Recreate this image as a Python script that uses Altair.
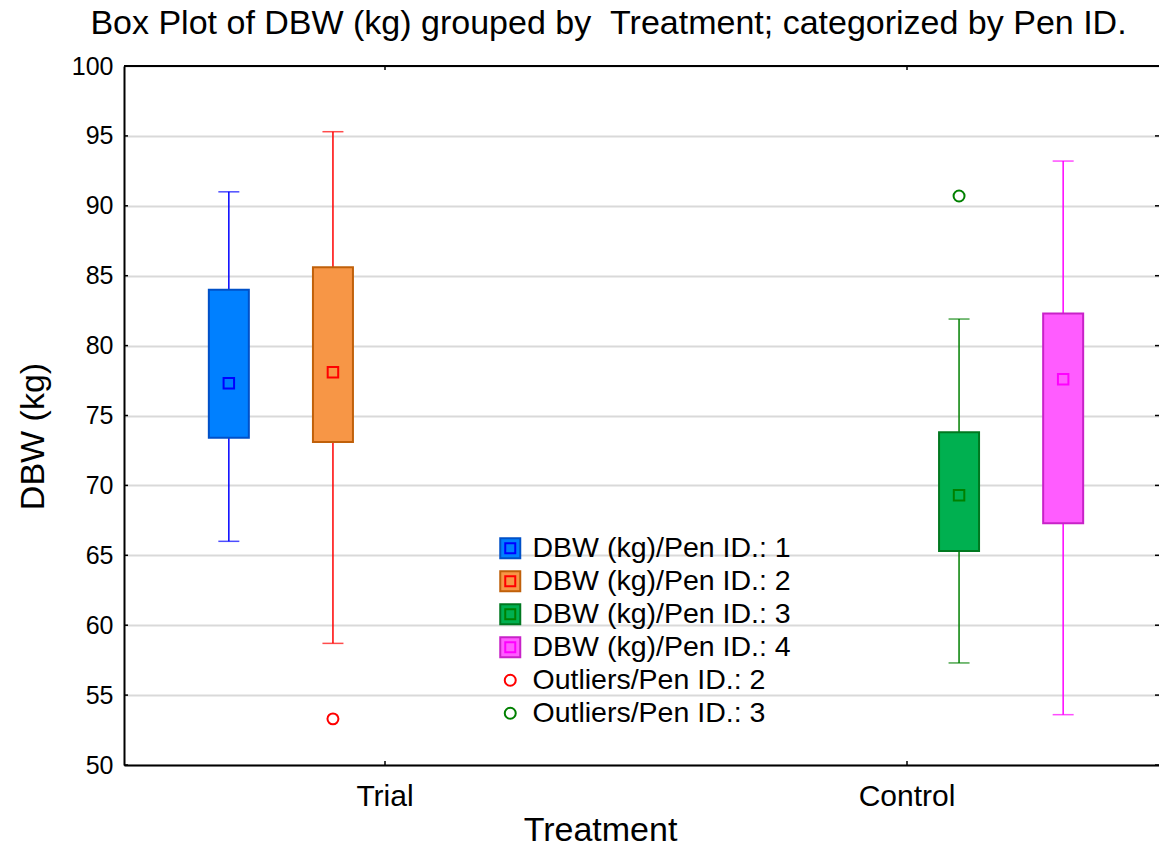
import altair as alt
import pandas as pd

# ---- data ----
categories = ["Trial", "Control"]
treatments = ["Trial", "Trial", "Control", "Control"]
pens = ["1", "2", "3", "4"]
whisker_low = [66.0, 58.7, 57.3, 53.6]
box_low = [73.4, 73.1, 65.3, 67.3]
centers = [77.3, 78.1, 69.3, 77.6]
box_high = [84.0, 85.6, 73.8, 82.3]
whisker_high = [91.0, 95.3, 81.9, 93.2]

outlier_treatments = ["Trial", "Control"]
outlier_pens = ["2", "3"]
outlier_values = [53.3, 90.7]

y_ticks = [50, 55, 60, 65, 70, 75, 80, 85, 90, 95, 100]

legend_labels = [
    "DBW (kg)/Pen ID.: 1",
    "DBW (kg)/Pen ID.: 2",
    "DBW (kg)/Pen ID.: 3",
    "DBW (kg)/Pen ID.: 4",
    "Outliers/Pen ID.: 2",
    "Outliers/Pen ID.: 3",
]

# ---- styles ----
fill_colors = ["#0080FF", "#F79646", "#00B050", "#FF5CFF"]
edge_colors = ["#0050C8", "#C0600A", "#007820", "#C822C8"]
line_colors = ["#0000FF", "#FF0000", "#008000", "#FF00FF"]

FONT = "Liberation Sans"
W, H = 1035, 699          # visible plot area (page is cut at the right)
XRANGE = 1044             # the category scale runs slightly past the page edge

boxes = pd.DataFrame({
    "treatment": treatments, "pen": pens,
    "whisker_low": whisker_low, "box_low": box_low, "center": centers,
    "box_high": box_high, "whisker_high": whisker_high,
    "fill_color": fill_colors, "edge_color": edge_colors, "line_color": line_colors,
})
outliers = pd.DataFrame({
    "treatment": outlier_treatments, "pen": outlier_pens, "value": outlier_values,
    "line_color": [line_colors[pens.index(p)] for p in outlier_pens],
})
ticks_df = pd.DataFrame({"value": y_ticks})
cats_df = pd.DataFrame({"treatment": categories})
legend_df = pd.DataFrame({"label": legend_labels})

x_axis = alt.Axis(
    title="Treatment", titleFontSize=34, titleFontWeight="normal", titleColor="black",
    titleX=476, titleY=75, titleBaseline="alphabetic", titleAlign="center",
    labelFontSize=30, labelColor="black", labelBaseline="alphabetic", labelPadding=40,
    labelAngle=0, ticks=False, domainColor="black", domainWidth=2, grid=False,
)
y_axis = alt.Axis(
    values=y_ticks, title="DBW (kg)", titleFontSize=34, titleFontWeight="normal",
    titleColor="black", titleX=-81, titleY=370, titleAngle=270, titleAlign="center",
    titleBaseline="alphabetic", labelFontSize=25, labelColor="black", labelPadding=11,
    ticks=False, domainColor="black", domainWidth=2, grid=True, gridColor="#D9D9D9",
    gridWidth=2,
)


def X():
    return alt.X("treatment:N", sort=categories,
                 scale=alt.Scale(domain=categories, range=[0, XRANGE],
                                 paddingInner=0, paddingOuter=0),
                 axis=x_axis)


def XO():
    return alt.XOffset("pen:N", scale=alt.Scale(domain=pens, paddingInner=0, paddingOuter=0.507))


def Y(field):
    return alt.Y(f"{field}:Q", scale=alt.Scale(domain=[50, 100], nice=False, zero=False),
                 axis=y_axis)


whiskers = alt.Chart(boxes).mark_rule(strokeWidth=1.5).encode(
    x=X(), xOffset=XO(), y=Y("whisker_low"), y2="whisker_high:Q",
    stroke=alt.Stroke("line_color:N", scale=None),
)
caps = alt.Chart(boxes).transform_fold(
    ["whisker_low", "whisker_high"], as_=["which", "cap"]
).mark_tick(orient="horizontal", size=21, thickness=1.5).encode(
    x=X(), xOffset=XO(), y=Y("cap"),
    color=alt.Color("line_color:N", scale=None),
)
bars = alt.Chart(boxes).mark_bar(size=40, strokeWidth=2).encode(
    x=X(), xOffset=XO(), y=Y("box_low"), y2="box_high:Q",
    fill=alt.Fill("fill_color:N", scale=None),
    stroke=alt.Stroke("edge_color:N", scale=None),
)
means = alt.Chart(boxes).mark_point(shape="square", filled=False, size=110,
                                    strokeWidth=2, opacity=1).encode(
    x=X(), xOffset=XO(), y=Y("center"),
    stroke=alt.Stroke("line_color:N", scale=None),
)
outs = alt.Chart(outliers).mark_point(shape="circle", filled=False, size=120,
                                      strokeWidth=2, opacity=1).encode(
    x=X(), xOffset=XO(), y=Y("value"),
    stroke=alt.Stroke("line_color:N", scale=None),
)

# frame and inward tick marks
top_border = alt.Chart(cats_df).mark_rule(color="black", strokeWidth=2).encode(
    x=alt.value(0), x2=alt.value(W), y=alt.value(0))
left_ticks = alt.Chart(ticks_df).mark_rule(color="black", strokeWidth=1.5).encode(
    y=Y("value"), x=alt.value(0), x2=alt.value(4))
right_ticks = alt.Chart(ticks_df).mark_rule(color="black", strokeWidth=1.5).encode(
    y=Y("value"), x=alt.value(W - 4), x2=alt.value(W))
bottom_ticks = alt.Chart(cats_df).mark_rule(color="black", strokeWidth=1.5).encode(
    x=X(), y=alt.value(H - 4), y2=alt.value(H))
top_ticks = alt.Chart(cats_df).mark_rule(color="black", strokeWidth=1.5).encode(
    x=X(), y=alt.value(0), y2=alt.value(4))

LX, LY = 372, 468
leg_common = dict(title=None, orient="none", legendX=LX, legendY=LY, padding=0,
                  labelFontSize=28.5, labelFont=FONT, labelColor="black", labelOffset=8,
                  rowPadding=4, symbolStrokeWidth=2, labelLimit=0)
legA = alt.Legend(**leg_common)
outer_fill = fill_colors + ["transparent", "transparent"]
outer_stroke = edge_colors + [line_colors[1], line_colors[2]]
outer_shape = ["square"] * 4 + ["circle"] * 2
outer_size = [400] * 4 + [121] * 2

legend_outer = alt.Chart(legend_df).transform_filter("false").mark_point(
    filled=True, opacity=1, strokeWidth=2).encode(
    fill=alt.Fill("label:N", scale=alt.Scale(domain=legend_labels, range=outer_fill), legend=legA),
    stroke=alt.Stroke("label:N", scale=alt.Scale(domain=legend_labels, range=outer_stroke), legend=legA),
    shape=alt.Shape("label:N", scale=alt.Scale(domain=legend_labels, range=outer_shape), legend=legA),
    size=alt.Size("label:N", scale=alt.Scale(type="ordinal", domain=legend_labels, range=outer_size), legend=legA),
)

legB = alt.Legend(**dict(leg_common, labelOpacity=0))
inner_stroke = line_colors + ["transparent", "transparent"]
inner_size = [100] * 4 + [121] * 2
legend_inner = alt.Chart(legend_df).transform_filter("false").mark_point(
    filled=False, opacity=1, strokeWidth=2).encode(
    stroke=alt.Stroke("label:N", scale=alt.Scale(domain=legend_labels, range=inner_stroke), legend=legB),
    shape=alt.Shape("label:N", scale=alt.Scale(domain=legend_labels, range=["square"] * 6), legend=legB),
    size=alt.Size("label:N", scale=alt.Scale(type="ordinal", domain=legend_labels, range=inner_size), legend=legB),
)

chart = alt.layer(
    whiskers, caps, bars, means, outs,
    top_border, left_ticks, right_ticks, bottom_ticks, top_ticks,
    legend_outer, legend_inner,
).resolve_scale(
    fill="independent", stroke="independent", shape="independent", size="independent",
    color="independent",
).properties(
    width=W, height=H,
    autosize="none",
    padding={"left": 116, "top": 58, "right": 0, "bottom": 93},
    title=alt.TitleParams(
        "Box Plot of DBW (kg) grouped by \u00a0Treatment; categorized by Pen ID.",
        fontSize=34, fontWeight="normal", font=FONT, color="black",
        anchor="middle", frame="group", baseline="alphabetic", offset=8, dy=22, dx=-33,
    ),
).configure(font=FONT).configure_view(stroke=None)

chart.save("out.html", embed_options={"renderer": "svg", "actions": False})
